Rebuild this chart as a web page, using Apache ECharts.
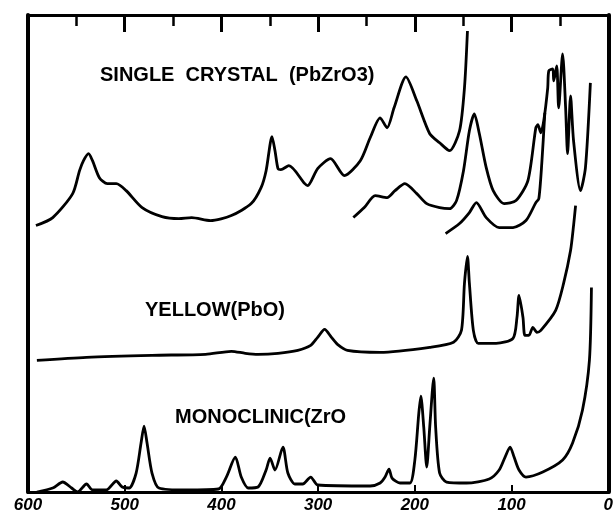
<!DOCTYPE html>
<html><head><meta charset="utf-8">
<script src="https://cdn.jsdelivr.net/npm/echarts/dist/echarts.min.js"></script>
<style>html,body{margin:0;padding:0;background:#fff}#c{width:616px;height:523px}</style>
</head><body><div id="c"></div>
<script>
// Wavenumber (cm-1) tick labels
const tickLabels = [600, 500, 400, 300, 200, 100, 0];

// Single crystal (PbZrO3) - upper trace
const crystalA_x = [591.8,574.4,553.8,546.7,542.6,537.4,533.3,526.2,518,508.7,498.5,482,461.5,444,430.8,411.3,389.7,369.2,359,353.8,347.7,344.6,341.5,338.5,330.3,313.8,310.8,300.5,287.2,272.8,256.4,246.2,235.9,228.7,221.5,209.2,198,184.6,174.4,164.1,153.8,148.7,145.6];
const crystalA_y = [267,275,299,322,332,339,332,315,309,309,302,285,276,274,275,272,277,289,305,322,356,342,324,323,327,309,307,324,334,317,332,355,375,365,385,416,392,359,350,342,362,405,462];
// Single crystal - middle trace
const crystalB_x = [263.6,252.3,241,228.7,220.5,210.3,198,187.7,174.4,164.1,156.9,149.7,143.6,138.5,133.3,126.2,119,107.7,95.4,83.1,74.9,72.8,69.7,66.7,62.6,61.5,57.4,56.4,53.3,51.3,47.2,44.1,42.1,39,35.9,28.7,23.6,18.5];
const crystalB_y = [275,285,297,295,302,309,299,289,285,284,292,322,362,379,359,325,302,289,292,312,365,368,360,372,405,422,424,412,427,385,439,385,339,397,352,302,325,410];
// Single crystal - lower trace
const crystalC_x = [168.2,153.8,143.6,136.4,126.2,112.8,98.5,85.1,74.9,71.8,68.7,65.6];
const crystalC_y = [259,269,280,290,275,265,265,272,290,294,330,380];
// Yellow (PbO)
const yellow_x = [590.8,539.5,471.8,416.4,389.7,375.4,362.1,341.5,321,307.7,300.5,293.3,286.2,280,269.7,235.9,184.6,160,151.8,148.7,145.6,143.6,139.5,134.4,116,98.5,94.4,92.3,88.2,86.2,82.1,78,73.8,69.7,54.4,46.2,39,35.9,33.8];
const yellow_y = [132,135,137,138,141,139,138,139,142,147,155,163,155,148,142,140,145,150,162,209,236,209,162,149,149,154,175,197,175,157,157,165,160,162,182,209,242,267,287];
// Monoclinic (ZrO2)
const mono_x = [590.8,574.4,564.1,554.9,548.7,539.5,533.3,519,508.7,502.6,495.4,488.2,483.1,480,476.9,471.8,464.6,436.9,403.1,394.9,385.6,379.5,372.3,362.1,353.8,349.7,344.6,336.4,331.3,324.1,315.9,307.7,300.5,246.2,235.9,230.8,226.7,223.6,215.4,205.1,200,195.9,193.8,190.8,187.7,184.6,180.5,178.5,174.4,167.2,146.7,123.1,112.8,106.7,101.5,97.4,92.3,85.1,67.7,47.2,36.9,26.7,19.5,17.4];
const mono_y = [0,4,10,4,0,8,2,2,11,5,4,19,49,66,49,19,4,2,3,15,35,15,4,5,22,34,22,45,19,8,8,15,7,6,9,15,23,14,9,9,32,79,96,65,25,65,114,65,19,10,9,13,22,35,45,35,22,15,20,32,49,82,132,205];

const labels = ['SINGLE  CRYSTAL  (PbZrO3)', 'YELLOW(PbO)', 'MONOCLINIC(ZrO'];

function zip(a, b) { return a.map((v, i) => [v, b[i]]); }
function line(xs, ys) {
  return {
    type: 'line', data: zip(xs, ys), showSymbol: false, smooth: 0.25,
    lineStyle: { color: '#000', width: 2.8 }, animation: false, clip: true
  };
}

const chart = echarts.init(document.getElementById('c'), null, { renderer: 'canvas' });
const txt = { fontFamily: 'Liberation Sans', fontWeight: 'bold', fontSize: 20, fill: '#000' };
chart.setOption({
  backgroundColor: '#fff',
  animation: false,
  grid: { left: 28, right: 4, top: 15, bottom: 31 },
  xAxis: [{
    type: 'value', min: 0, max: 600, interval: 100, inverse: true, position: 'bottom',
    axisLine: { onZero: false, lineStyle: { color: '#000', width: 3 } },
    axisTick: { inside: true, length: 7, lineStyle: { color: '#000', width: 2 } },
    axisLabel: { color: '#000', fontFamily: 'Liberation Sans', fontWeight: 'bold', fontStyle: 'italic', fontSize: 17, margin: 5,
      formatter: v => tickLabels.includes(v) ? String(v) : '' },
    splitLine: { show: false }
  }, {
    type: 'value', min: 0, max: 600, interval: 100, inverse: true, position: 'top',
    axisLine: { onZero: false, lineStyle: { color: '#000', width: 3 } },
    axisTick: { inside: true, length: 17, lineStyle: { color: '#000', width: 3 } },
    minorTick: { show: true, splitNumber: 2, length: 11, lineStyle: { color: '#000', width: 2.5 } },
    axisLabel: { show: false }, splitLine: { show: false }
  }],
  yAxis: [{
    type: 'value', min: 0, max: 478, position: 'left',
    axisLine: { show: true, onZero: false, lineStyle: { color: '#000', width: 4 } },
    axisTick: { show: false }, axisLabel: { show: false }, splitLine: { show: false }
  }, {
    type: 'value', min: 0, max: 478, position: 'right',
    axisLine: { show: true, onZero: false, lineStyle: { color: '#000', width: 4 } },
    axisTick: { show: false }, axisLabel: { show: false }, splitLine: { show: false }
  }],
  series: [
    line(crystalA_x, crystalA_y),
    line(crystalB_x, crystalB_y),
    line(crystalC_x, crystalC_y),
    line(yellow_x, yellow_y),
    line(mono_x, mono_y)
  ],
  graphic: [
    { type: 'text', left: 100, top: 65, style: Object.assign({ text: labels[0] }, txt) },
    { type: 'text', left: 145, top: 300, style: Object.assign({ text: labels[1] }, txt) },
    { type: 'text', left: 175, top: 407, style: Object.assign({ text: labels[2] }, txt) }
  ]
});
</script></body></html>
